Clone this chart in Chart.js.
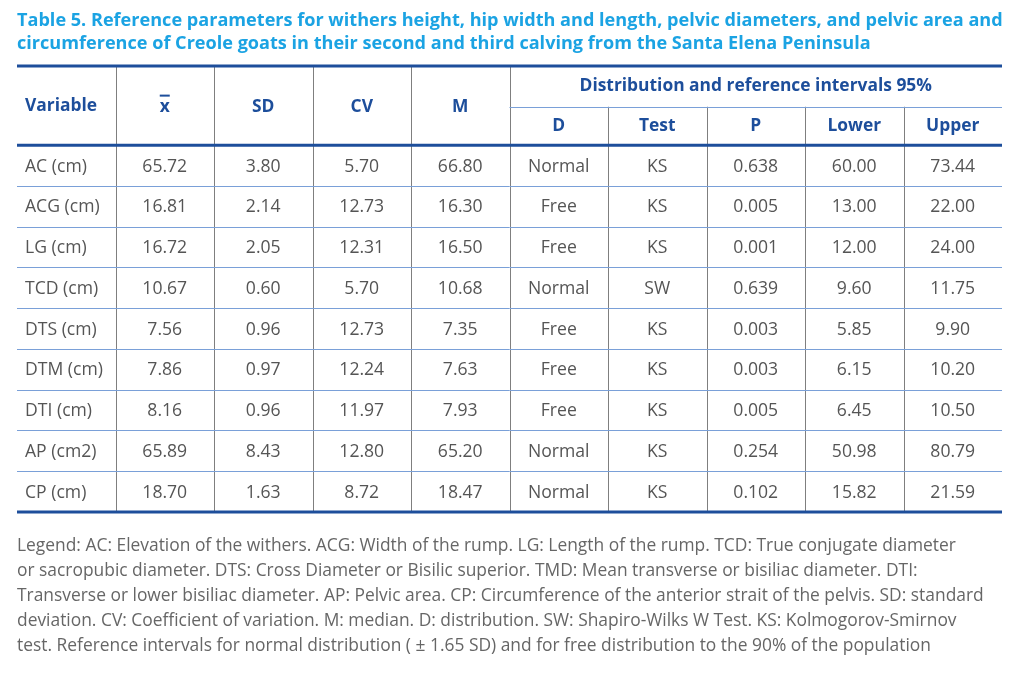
<!DOCTYPE html>
<html>
<head>
<meta charset="utf-8">
<script src="https://cdn.jsdelivr.net/npm/chart.js@4.4.1/dist/chart.umd.min.js"></script>
<style>
  html, body { margin: 0; padding: 0; background: #fff; }
  #wrap { position: relative; width: 1024px; height: 680px; }
  #tbl { position: absolute; left: 0; top: 0; }
  .title {
    position: absolute; left: 17px; top: 8px; width: 1010px;
    font-family: "Open Sans", sans-serif; font-weight: 700; font-size: 18.1px;
    line-height: 23px; color: #1ba3e3; white-space: nowrap;
  }
  .note {
    position: absolute; left: 17px; top: 532px; width: 1010px;
    font-family: "Open Sans", sans-serif; font-size: 17.4px;
    line-height: 25px; color: #666; white-space: nowrap;
  }
</style>
</head>
<body>
<div id="wrap">
  <canvas id="tbl" width="1024" height="680"></canvas>
  <div class="title">Table 5. Reference parameters for withers height, hip width and length, pelvic diameters, and pelvic area and<br>circumference of Creole goats in their second and third calving from the Santa Elena Peninsula</div>
  <div class="note">Legend: AC: Elevation of the withers. ACG: Width of the rump. LG: Length of the rump. TCD: True conjugate diameter<br>or sacropubic diameter. DTS: Cross Diameter or Bisilic superior. TMD: Mean transverse or bisiliac diameter. DTI:<br>Transverse or lower bisiliac diameter. AP: Pelvic area. CP: Circumference of the anterior strait of the pelvis. SD: standard<br>deviation. CV: Coefficient of variation. M: median. D: distribution. SW: Shapiro-Wilks W Test. KS: Kolmogorov-Smirnov<br>test. Reference intervals for normal distribution ( ± 1.65 SD) and for free distribution to the 90% of the population</div>
</div>
<script>
// table values
const variables = ['AC (cm)', 'ACG (cm)', 'LG (cm)', 'TCD (cm)', 'DTS (cm)', 'DTM (cm)', 'DTI (cm)', 'AP (cm2)', 'CP (cm)'];
const means   = [65.72, 16.81, 16.72, 10.67, 7.56, 7.86, 8.16, 65.89, 18.70];
const sds     = [3.80, 2.14, 2.05, 0.60, 0.96, 0.97, 0.96, 8.43, 1.63];
const cvs     = [5.70, 12.73, 12.31, 5.70, 12.73, 12.24, 11.97, 12.80, 8.72];
const medians = [66.80, 16.30, 16.50, 10.68, 7.35, 7.63, 7.93, 65.20, 18.47];
const dists   = ['Normal', 'Free', 'Free', 'Normal', 'Free', 'Free', 'Free', 'Normal', 'Normal'];
const tests   = ['KS', 'KS', 'KS', 'SW', 'KS', 'KS', 'KS', 'KS', 'KS'];
const pvals   = [0.638, 0.005, 0.001, 0.639, 0.003, 0.003, 0.005, 0.254, 0.102];
const lowers  = [60.00, 13.00, 12.00, 9.60, 5.85, 6.15, 6.45, 50.98, 15.82];
const uppers  = [73.44, 22.00, 24.00, 11.75, 9.90, 10.20, 10.50, 80.79, 21.59];

const headers = ['Variable', 'x', 'SD', 'CV', 'M', 'D', 'Test', 'P', 'Lower', 'Upper'];
const groupHeader = 'Distribution and reference intervals 95%';

const columns = [
  variables,
  means.map(v => v.toFixed(2)),
  sds.map(v => v.toFixed(2)),
  cvs.map(v => v.toFixed(2)),
  medians.map(v => v.toFixed(2)),
  dists,
  tests,
  pvals.map(v => v.toFixed(3)),
  lowers.map(v => v.toFixed(2)),
  uppers.map(v => v.toFixed(2))
];

// header rows sit above 0 on the (reversed) y scale
const HEAD_TOP = -1.944;
const HEAD_MID = -0.944;

const darkBlue = '#1d4e9b';
const rowLine = '#7aa0d8';
const colLine = '#7f7f7f';
const textGray = '#555';
const FONT = '"Open Sans", sans-serif';

const datasets = columns.map((col, c) => ({
  label: headers[c],
  data: col.map((txt, r) => ({ x: c + 0.5, y: r + 0.5, txt: txt })),
  pointRadius: 0,
  pointHoverRadius: 0,
  showLine: false
}));

const tablePlugin = {
  id: 'tablePlugin',
  beforeDatasetsDraw(chart) {
    const ctx = chart.ctx;
    const xs = chart.scales.x, ys = chart.scales.y;
    const X = v => xs.getPixelForValue(v);
    const Y = v => ys.getPixelForValue(v);
    ctx.save();
    // vertical lines
    ctx.strokeStyle = colLine;
    ctx.lineWidth = 1;
    for (let c = 1; c < 10; c++) {
      const top = c <= 5 ? HEAD_TOP : HEAD_MID;
      ctx.beginPath();
      ctx.moveTo(Math.round(X(c)) + 0.5, Y(top));
      ctx.lineTo(Math.round(X(c)) + 0.5, Y(9));
      ctx.stroke();
    }
    // thin row lines
    ctx.strokeStyle = rowLine;
    for (let r = 1; r < 9; r++) {
      ctx.beginPath();
      ctx.moveTo(X(0), Math.round(Y(r)) + 0.5);
      ctx.lineTo(X(10), Math.round(Y(r)) + 0.5);
      ctx.stroke();
    }
    ctx.beginPath();
    ctx.moveTo(X(5), Math.round(Y(HEAD_MID)) + 0.5);
    ctx.lineTo(X(10), Math.round(Y(HEAD_MID)) + 0.5);
    ctx.stroke();
    // thick rules
    ctx.strokeStyle = darkBlue;
    ctx.lineWidth = 3;
    [HEAD_TOP, 0, 9].forEach(v => {
      ctx.beginPath();
      ctx.moveTo(X(0), Y(v));
      ctx.lineTo(X(10), Y(v));
      ctx.stroke();
    });

    // header text
    ctx.fillStyle = darkBlue;
    ctx.font = 'bold 17.4px ' + FONT;
    ctx.textBaseline = 'middle';
    const midAll = Y((HEAD_TOP + 0) / 2);
    const midLow = Y((HEAD_MID + 0) / 2);
    ctx.textAlign = 'left';
    ctx.fillText(headers[0], X(0) + 8, midAll);
    ctx.textAlign = 'center';
    for (let c = 1; c < 5; c++) ctx.fillText(headers[c], X(c + 0.5), midAll + 1);
    // bar over x
    ctx.fillRect(X(1.5) - 5, midAll - 11, 10, 2);
    ctx.fillText(groupHeader, X(7.5), Y((HEAD_TOP + HEAD_MID) / 2));
    for (let c = 5; c < 10; c++) ctx.fillText(headers[c], X(c + 0.5), midLow);
    ctx.restore();
  },
  afterDatasetsDraw(chart) {
    const ctx = chart.ctx;
    ctx.save();
    ctx.fillStyle = textGray;
    ctx.font = '17.6px ' + FONT;
    ctx.textBaseline = 'middle';
    chart.data.datasets.forEach((ds, c) => {
      const meta = chart.getDatasetMeta(c);
      meta.data.forEach((pt, r) => {
        if (c === 0) {
          ctx.textAlign = 'left';
          ctx.fillText(ds.data[r].txt, chart.scales.x.getPixelForValue(0) + 8, pt.y + 1);
        } else {
          ctx.textAlign = 'center';
          ctx.fillText(ds.data[r].txt, pt.x, pt.y + 1);
        }
      });
    });
    ctx.restore();
  }
};

const chart = new Chart(document.getElementById('tbl'), {
  type: 'scatter',
  data: { datasets: datasets },
  options: {
    responsive: false,
    animation: false,
    devicePixelRatio: 1,
    layout: { padding: { left: 17, right: 22, top: 66, bottom: 168 } },
    scales: {
      x: { type: 'linear', min: 0, max: 10, display: false },
      y: { type: 'linear', min: HEAD_TOP, max: 9, reverse: true, display: false }
    },
    plugins: { legend: { display: false }, tooltip: { enabled: false }, title: { display: false } }
  },
  plugins: [tablePlugin]
});
</script>
</body>
</html>
